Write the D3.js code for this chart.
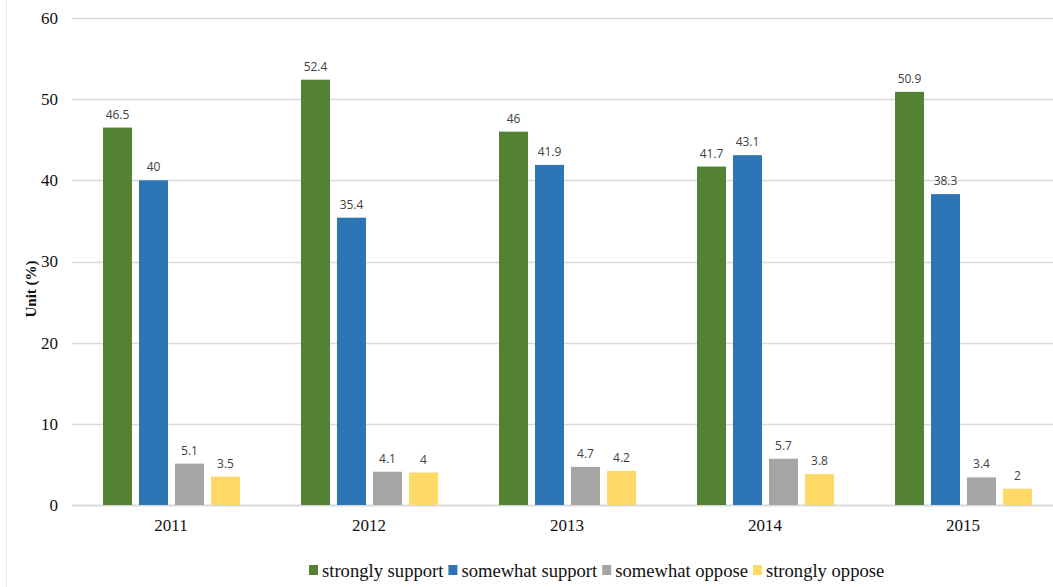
<!DOCTYPE html>
<html>
<head>
<meta charset="utf-8">
<script src="https://cdn.jsdelivr.net/npm/d3@7"></script>
<style>
  html, body { margin: 0; padding: 0; background: #fff; }
  svg { display: block; }
</style>
</head>
<body>
<svg id="chart" width="1053" height="587"></svg>
<script>
// Survey responses by year (%)
const years = ["2011", "2012", "2013", "2014", "2015"];
const seriesNames = ["strongly support", "somewhat support", "somewhat oppose", "strongly oppose"];
const stronglySupport = [46.5, 52.4, 46, 41.7, 50.9];
const somewhatSupport = [40, 35.4, 41.9, 43.1, 38.3];
const somewhatOppose = [5.1, 4.1, 4.7, 5.7, 3.4];
const stronglyOppose = [3.5, 4, 4.2, 3.8, 2];
const yTicks = [0, 10, 20, 30, 40, 50, 60];
const colors = ["#548235", "#2E75B6", "#A5A5A5", "#FFD966"];

const seriesValues = [stronglySupport, somewhatSupport, somewhatOppose, stronglyOppose];

const svg = d3.select("#chart");
const W = 1053, H = 587;
const plotLeft = 72, plotTop = 18, plotBottom = 505;
const bandStep = 198;
const groupWidth = 137;

// frame edge on the left
svg.append("line")
  .attr("x1", 6.5).attr("x2", 6.5).attr("y1", 0).attr("y2", H)
  .attr("stroke", "#ececec").attr("stroke-width", 1);

const x = d3.scaleBand().domain(years)
  .range([plotLeft, plotLeft + bandStep * years.length]).paddingInner(0).paddingOuter(0);
const xInner = d3.scaleBand().domain(seriesNames)
  .range([0, groupWidth]).paddingInner(0.194).paddingOuter(0);
const y = d3.scaleLinear().domain([0, 60]).range([plotBottom, plotTop]);

// gridlines
svg.append("g").selectAll("line").data(yTicks).join("line")
  .attr("x1", plotLeft).attr("x2", W)
  .attr("y1", d => Math.round(y(d)) + 0.5).attr("y2", d => Math.round(y(d)) + 0.5)
  .attr("stroke", "#d9d9d9").attr("stroke-width", d => d === 0 ? 2 : 1.3);

// y axis labels
const yAxis = d3.axisLeft(y).tickValues(yTicks).tickSize(0).tickPadding(14);
const gy = svg.append("g").attr("transform", `translate(${plotLeft},0)`).call(yAxis);
gy.select(".domain").remove();
gy.selectAll("text")
  .attr("font-family", "'Liberation Serif', 'DejaVu Serif', serif")
  .attr("font-size", 17).attr("fill", "#111");

// x axis labels
const xAxis = d3.axisBottom(x).tickSize(0).tickPadding(14);
const gx = svg.append("g").attr("transform", `translate(0,${plotBottom})`).call(xAxis);
gx.select(".domain").remove();
gx.selectAll("text")
  .attr("font-family", "'Liberation Serif', 'DejaVu Serif', serif")
  .attr("font-size", 17).attr("fill", "#111");

// y axis title
svg.append("text")
  .attr("transform", "translate(36,289) rotate(-90)")
  .attr("text-anchor", "middle")
  .attr("font-family", "'Liberation Serif', 'DejaVu Serif', serif")
  .attr("font-weight", "bold").attr("font-size", 15).attr("fill", "#111")
  .text("Unit (%)");

// bars and value labels
const groupOffset = (bandStep - groupWidth) / 2 + 0.5;
seriesNames.forEach((name, si) => {
  const g = svg.append("g");
  const vals = seriesValues[si];
  g.selectAll("rect").data(years).join("rect")
    .attr("x", (d) => x(d) + groupOffset + xInner(name))
    .attr("y", (d, i) => y(vals[i]))
    .attr("width", xInner.bandwidth())
    .attr("height", (d, i) => y(0) - y(vals[i]))
    .attr("fill", colors[si]);
  g.selectAll("text").data(years).join("text")
    .attr("x", (d) => x(d) + groupOffset + xInner(name) + xInner.bandwidth() / 2)
    .attr("y", (d, i) => y(vals[i]) - 9)
    .attr("text-anchor", "middle")
    .attr("font-family", "'Liberation Sans Narrow', 'Open Sans', sans-serif")
    .attr("font-size", 12).attr("fill", "#404040")
    .text((d, i) => vals[i]);
});

// legend
const legend = svg.append("g").attr("transform", "translate(309,0)");
const legendFont = "'Liberation Serif', 'DejaVu Serif', serif";
let lx = 0;
seriesNames.forEach((name, si) => {
  legend.append("rect")
    .attr("x", lx).attr("y", 565).attr("width", 9).attr("height", 10)
    .attr("fill", colors[si]);
  const t = legend.append("text")
    .attr("x", lx + 13).attr("y", 577)
    .attr("font-family", legendFont).attr("font-size", 18.6).attr("fill", "#111")
    .text(name);
  lx += 13 + t.node().getComputedTextLength() + 5;
});
</script>
</body>
</html>
